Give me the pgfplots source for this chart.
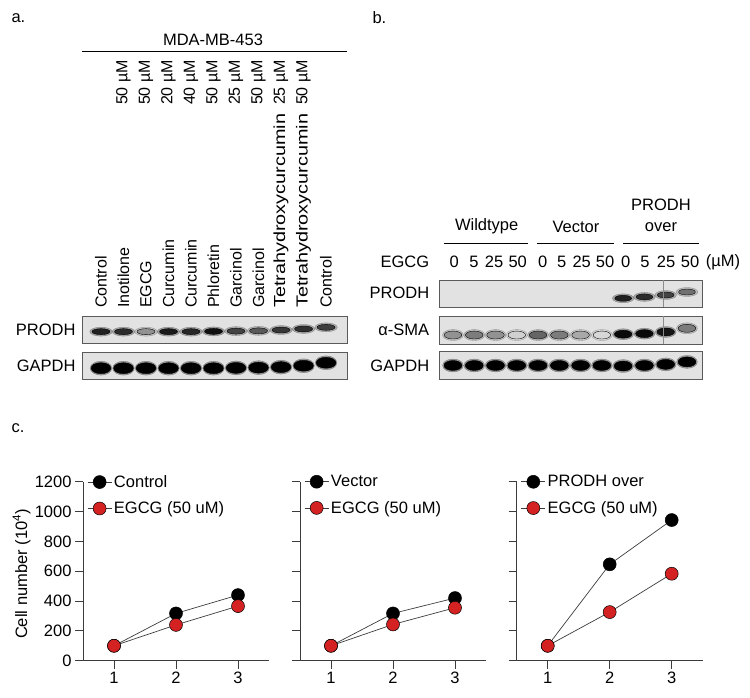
\documentclass[border=0pt]{standalone}
\usepackage{fontspec}
\setmainfont{Liberation Sans}
\usepackage{pgfplots}
\usepackage{graphicx}
\pgfplotsset{compat=1.18}
\definecolor{blotbg}{HTML}{E2E2E2}
\definecolor{blotedge}{HTML}{5A5A5A}
\definecolor{dotred}{HTML}{D42222}
\definecolor{axgray}{HTML}{3C3C3C}

\newcommand{\bigf}{\fontsize{16.5}{19.8}\selectfont}
\newcommand{\lanef}{\fontsize{16}{19}\selectfont}

\pgfplotsset{
  blotaxis/.style={
    scale only axis, anchor=south west,
    ymin=0, ymax=1,
    axis line style={draw=blotedge, line width=0.8pt},
    axis background/.style={fill=blotbg},
    xtick=\empty, ytick=\empty,
    colormap={blot}{color(0)=(blotbg) color(1)=(black)},
    point meta min=0, point meta max=1,
    clip=true,
  },
  band/.style n args={2}{scatter, only marks, mark=*, mark size=#1,
    point meta=explicit,
    scatter/use mapped color={draw=none, fill=mapped color},
    mark options={xscale=#2}},
  halo/.style n args={2}{scatter, only marks, mark=*, mark size=#1, opacity=0.3,
    point meta=explicit,
    scatter/use mapped color={draw=none, fill=mapped color},
    mark options={xscale=#2}},
  growth/.style={
    scale only axis, anchor=south west, width=186pt, height=179pt,
    xmin=0.5, xmax=3.5, ymin=0, ymax=1200,
    axis x line=bottom, axis y line=left,
    axis line style={-, draw=axgray, line width=0.9pt},
    xtick={1,2,3}, ytick={0,200,...,1200},
    tick align=outside, major tick length=8pt,
    tick style={draw=axgray, line width=0.9pt},
    tick label style={font=\bigf},
    /pgf/number format/assume math mode=true,
    /pgf/number format/1000 sep={},
    clip=false,
    legend style={draw=none, fill=none, inner sep=0pt,
      at={(axis description cs:0.022,1.048)}, anchor=north west,
      row sep=9pt, font=\bigf, nodes={inner sep=2pt}},
    legend cell align=left,
    legend image code/.code={\draw[mark repeat=2, mark phase=2, ##1] plot coordinates {(0pt,0pt) (12pt,0pt) (24pt,0pt)};},
  },
  blackser/.style={draw=axgray, line width=0.7pt, mark=*, mark size=6.5pt,
    mark options={fill=black, draw=black, line width=0.5pt}},
  redser/.style={draw=axgray, line width=0.7pt, mark=*, mark size=6.5pt,
    mark options={fill=dotred, draw=black, line width=0.5pt}},
}

\pgfplotstableread{
x y i
1 0.42 0.85
2 0.42 0.80
3 0.42 0.35
4 0.42 0.88
5 0.42 0.82
6 0.43 0.92
7 0.44 0.70
8 0.45 0.60
9 0.48 0.75
10 0.52 0.78
11 0.58 0.72
}\aProdh
\pgfplotstableread{
x y i
1 0.40 1
2 0.40 1
3 0.40 1
4 0.40 1
5 0.40 1
6 0.40 1
7 0.41 1
8 0.42 1
9 0.44 1
10 0.49 1
11 0.60 1
}\aGapdh
\pgfplotstableread{
x y i
9 0.33 0.85
10 0.38 0.80
11 0.45 0.70
12 0.56 0.50
}\bProdh
\pgfplotstableread{
x y i
1 0.32 0.35
2 0.32 0.45
3 0.32 0.35
4 0.32 0.08
5 0.32 0.55
6 0.32 0.45
7 0.32 0.25
8 0.32 0.05
9 0.35 0.95
10 0.37 0.95
11 0.43 0.90
12 0.56 0.45
}\bSma
\pgfplotstableread{
x y i
1 0.50 1
2 0.50 1
3 0.50 1
4 0.50 1
5 0.50 1
6 0.50 1
7 0.50 1
8 0.50 1
9 0.48 1
10 0.50 1
11 0.54 1
12 0.63 1
}\bGapdh

\begin{document}
\begin{tikzpicture}[x=1pt, y=1pt, font=\bigf]
\useasboundingbox (0,0) rectangle (750,698);

% ---------------- panel a ----------------
\node[anchor=west] at (8,680) {a.};
\node at (213,658) {MDA-MB-453};
\draw[line width=0.8pt, black] (82,647) -- (347,647);
\foreach \i/\name in {1/Control,2/Inotilone,3/EGCG,4/Curcumin,5/Curcumin,6/Phloretin,7/Garcinol,8/Garcinol,11/Control}{
  \node[rotate=90, anchor=west, font=\lanef, inner sep=0pt] at ({82+(\i-0.156)*22.5}, 390) {\name};
}
\foreach \i in {9,10}{
  \node[rotate=90, anchor=west, font=\lanef, inner sep=0pt] at ({82+(\i-0.156)*22.5}, 390) {\scalebox{1.24}[1]{Tetrahydroxycurcumin}};
}
\foreach \i/\c in {2/50,3/50,4/20,5/40,6/50,7/25,8/50,9/25,10/50}{
  \node[rotate=90, anchor=east, font=\lanef, inner sep=0pt] at ({82+(\i-0.156)*22.5}, 638) {\c\ µM};
}
\node[anchor=east] at (79,368) {PRODH};
\node[anchor=east] at (79,332.5) {GAPDH};

\begin{axis}[blotaxis, at={(82pt,355pt)}, width=265pt, height=27pt, xmin=0.156, xmax=11.93]
  \addplot[halo={4.5pt}{2.5}] table[x=x, y=y, meta=i] {\aProdh};
  \addplot[band={3pt}{3.0}] table[x=x, y=y, meta=i] {\aProdh};
\end{axis}
\begin{axis}[blotaxis, at={(82pt,319pt)}, width=265pt, height=27pt, xmin=0.156, xmax=11.93]
  \addplot[halo={7pt}{1.55}] table[x=x, y=y, meta=i] {\aGapdh};
  \addplot[band={5.5pt}{1.8}] table[x=x, y=y, meta=i] {\aGapdh};
\end{axis}

% ---------------- panel b ----------------
\node[anchor=west] at (369,680) {b.};
\node at (486.7,471.3) {Wildtype};
\node at (576,471.3) {Vector};
\node at (661,493) {PRODH};
\node at (661,471.3) {over};
\draw[line width=0.8pt, black] (444,454.7) -- (528,454.7);
\draw[line width=0.8pt, black] (537,454.7) -- (614,454.7);
\draw[line width=0.8pt, black] (623,454.7) -- (699,454.7);
\node[anchor=east] at (432.7,435.7) {EGCG};
\foreach \xx/\v in {454.3/0,474/5,494/25,517.7/50,542.7/0,561.7/5,581.7/25,605/50,625.7/0,645/5,666/25,690/50}{
  \node at (\xx,435.7) {\v};
}
\node at (723,435.7) {(µM)};
\node[anchor=east] at (432.7,405) {PRODH};
\node[anchor=east] at (432.7,368) {α-SMA};
\node[anchor=east] at (432.7,332.5) {GAPDH};

\begin{axis}[blotaxis, at={(439pt,390.7pt)}, width=263.3pt, height=27.3pt, xmin=0.343, xmax=12.72]
  \addplot[halo={4.5pt}{2.4}] table[x=x, y=y, meta=i] {\bProdh};
  \addplot[band={3pt}{2.8}] table[x=x, y=y, meta=i] {\bProdh};
\end{axis}
\begin{axis}[blotaxis, at={(439pt,354pt)}, width=263.3pt, height=28pt, xmin=0.343, xmax=12.72]
  \addplot[halo={5.5pt}{1.9}] table[x=x, y=y, meta=i] {\bSma};
  \addplot[band={4pt}{2.2}] table[x=x, y=y, meta=i] {\bSma};
\end{axis}
\begin{axis}[blotaxis, at={(439pt,318.7pt)}, width=263.3pt, height=27.6pt, xmin=0.343, xmax=12.72]
  \addplot[halo={6.5pt}{1.6}] table[x=x, y=y, meta=i] {\bGapdh};
  \addplot[band={5pt}{1.8}] table[x=x, y=y, meta=i] {\bGapdh};
\end{axis}
\draw[black!45, line width=0.4pt] (663.3,391.1) -- (663.3,417.6);
\draw[black!45, line width=0.4pt] (663.3,354.4) -- (663.3,381.6);

% ---------------- panel c ----------------
\node[anchor=west] at (8,270) {c.};

\begin{axis}[growth, at={(83pt,37.3pt)},
  ylabel={Cell number (10\textsuperscript{4})},
  ylabel style={font=\bigf, at={(axis description cs:-0.33,0.484)}, anchor=center}]
  \addplot[blackser] coordinates {(1,100) (2,317) (3,440)};
  \addlegendentry{Control}
  \addplot[redser] coordinates {(1,100) (2,240) (3,366)};
  \addlegendentry{EGCG (50 uM)}
\end{axis}

\begin{axis}[growth, at={(300pt,37.3pt)}, yticklabels={}]
  \addplot[blackser] coordinates {(1,100) (2,317) (3,420)};
  \addlegendentry{Vector}
  \addplot[redser] coordinates {(1,100) (2,243) (3,355)};
  \addlegendentry{EGCG (50 uM)}
\end{axis}

\begin{axis}[growth, at={(516.7pt,37.3pt)}, yticklabels={}]
  \addplot[blackser] coordinates {(1,100) (2,646) (3,943)};
  \addlegendentry{PRODH over}
  \addplot[redser] coordinates {(1,100) (2,326) (3,583)};
  \addlegendentry{EGCG (50 uM)}
\end{axis}
\end{tikzpicture}
\end{document}
